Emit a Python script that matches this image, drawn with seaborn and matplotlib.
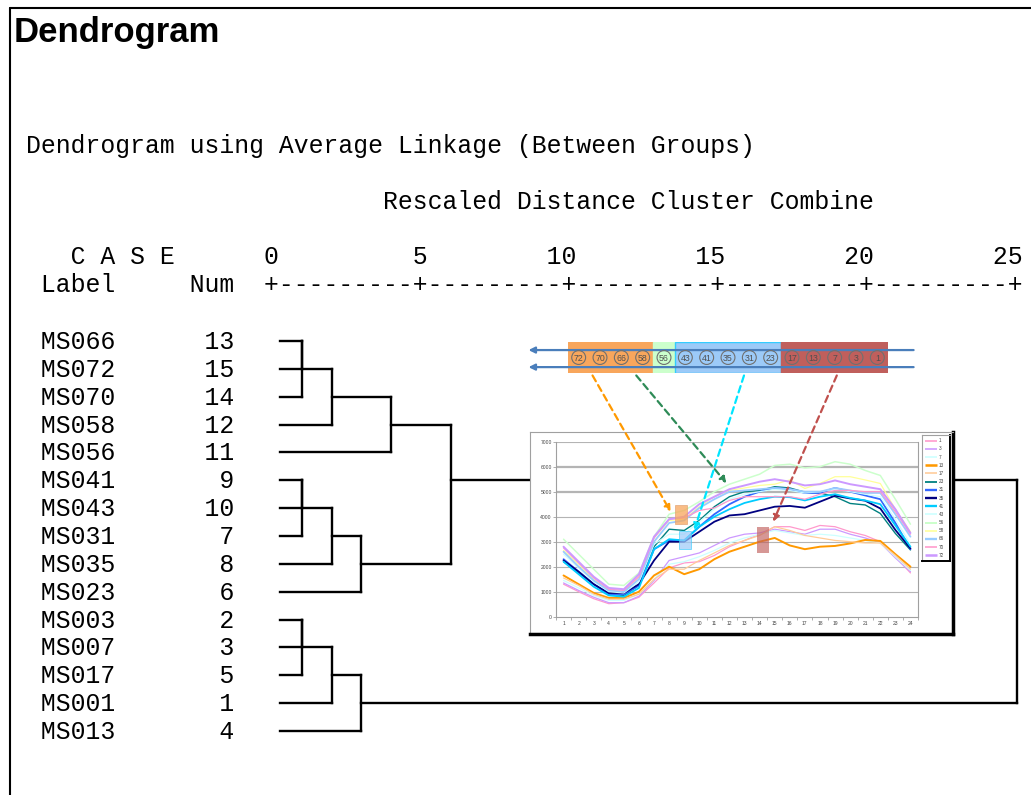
import numpy as np
import pandas as pd
import matplotlib
matplotlib.use("Agg")
import matplotlib.pyplot as plt
import seaborn as sns
from matplotlib.patches import Rectangle, ConnectionPatch
from matplotlib.transforms import blended_transform_factory, offset_copy

# --- data ---
case_labels = ['MS066', 'MS072', 'MS070', 'MS058', 'MS056', 'MS041', 'MS043', 'MS031',
               'MS035', 'MS023', 'MS003', 'MS007', 'MS017', 'MS001', 'MS013']
case_nums = [13, 15, 14, 12, 11, 9, 10, 7, 8, 6, 2, 3, 5, 1, 4]
# (node a, node b, rescaled distance); new nodes numbered from 15 on
merges = [(0, 1, 1), (15, 2, 1), (16, 3, 2), (17, 4, 4),
          (5, 6, 1), (19, 7, 1), (20, 8, 2), (21, 9, 3), (18, 22, 6),
          (10, 11, 1), (24, 12, 1), (25, 13, 2), (26, 14, 3), (23, 27, 25)]
scale_ticks = [0, 5, 10, 15, 20, 25]
leaf_start = 0.27

hours = list(range(1, 25))
load = {
    '1':  [1300, 1000, 720, 520, 560, 780, 1350, 1950, 2150, 2200, 2450, 2800, 3050, 3300, 3600, 3600, 3450, 3650, 3600, 3400, 3250, 3000, 2400, 1750],
    '3':  [1350, 1050, 780, 560, 560, 820, 1450, 2250, 2400, 2550, 2850, 3150, 3300, 3350, 3500, 3400, 3300, 3500, 3500, 3300, 3150, 2950, 2350, 1800],
    '7':  [1450, 1150, 850, 650, 650, 900, 1500, 2100, 2200, 2400, 2650, 2950, 3150, 3300, 3450, 3350, 3250, 3300, 3250, 3150, 3050, 2950, 2400, 1850],
    '13': [1650, 1300, 950, 750, 750, 1000, 1650, 2000, 1700, 1900, 2300, 2600, 2800, 3000, 3150, 2850, 2700, 2800, 2830, 2930, 3070, 3030, 2500, 2000],
    '17': [1550, 1250, 900, 700, 700, 900, 1500, 1900, 1900, 2250, 2550, 2850, 3050, 3250, 3600, 3450, 3250, 3150, 3050, 3000, 2950, 2950, 2450, 1900],
    '23': [2200, 1750, 1300, 900, 850, 1250, 2800, 3500, 3450, 3850, 4400, 4800, 5000, 5050, 5200, 5150, 4980, 4950, 4800, 4530, 4470, 4130, 3330, 2670],
    '31': [2300, 1800, 1300, 900, 900, 1250, 2700, 3050, 3050, 3600, 4100, 4500, 4800, 5000, 5150, 5100, 4950, 4950, 5150, 5000, 4850, 4700, 3750, 2700],
    '35': [2250, 1800, 1300, 950, 950, 1300, 2250, 3000, 3000, 3400, 3800, 4050, 4100, 4250, 4400, 4430, 4360, 4600, 4840, 4730, 4640, 4330, 3470, 2730],
    '41': [2200, 1700, 1200, 850, 800, 1150, 2700, 3100, 3050, 3600, 4000, 4300, 4550, 4700, 4800, 4780, 4650, 4800, 4900, 4750, 4650, 4500, 3650, 2800],
    '43': [2500, 1950, 1400, 1000, 950, 1400, 2900, 3300, 3300, 3800, 4300, 4700, 4900, 5000, 5100, 5050, 4950, 5000, 5100, 5000, 4900, 4800, 3900, 2900],
    '56': [3100, 2500, 1900, 1300, 1250, 1750, 3200, 4100, 4250, 4600, 5000, 5300, 5500, 5700, 6050, 6100, 5950, 6000, 6200, 6100, 5850, 5650, 4700, 3700],
    '58': [2650, 2100, 1500, 1100, 1050, 1600, 3150, 3850, 3900, 4400, 4800, 5050, 5150, 5250, 5300, 5470, 5130, 5330, 5600, 5600, 5470, 5330, 4300, 3400],
    '66': [2600, 2000, 1450, 1050, 1000, 1500, 3000, 3750, 3850, 4350, 4700, 5000, 5050, 5100, 5150, 5100, 5000, 5000, 5150, 5050, 4950, 4950, 4100, 3200],
    '70': [2750, 2150, 1550, 1100, 1050, 1600, 3150, 3900, 3950, 4250, 4350, 4650, 4800, 4800, 4800, 4800, 4700, 4900, 5050, 5050, 5000, 5000, 4200, 3300],
    '72': [2800, 2200, 1600, 1150, 1100, 1700, 3200, 3900, 4000, 4500, 4800, 5100, 5250, 5400, 5500, 5400, 5250, 5300, 5450, 5300, 5200, 5100, 4300, 3350],
}
series_colors = {'1': '#ff99cc', '3': '#cc99ff', '7': '#ccffff', '13': '#ff9900', '17': '#ffcc99',
                 '23': '#008080', '31': '#3366ff', '35': '#000080', '41': '#00ccff', '43': '#ccffff',
                 '56': '#ccffcc', '58': '#ffff99', '66': '#99ccff', '70': '#ff99cc', '72': '#cc99ff'}
series_widths = {'1': 0.9, '3': 0.9, '7': 0.9, '13': 1.4, '17': 0.9, '23': 1.0, '31': 1.3, '35': 1.3,
                 '41': 1.3, '43': 0.9, '56': 1.1, '58': 0.9, '66': 1.3, '70': 0.9, '72': 1.4}
value_ticks = list(range(0, 7001, 1000))

strip_ids = [72, 70, 66, 58, 56, 43, 41, 35, 31, 23, 17, 13, 7, 3, 1]
strip_group_sizes = [4, 1, 5, 5]
strip_group_colors = ['#f8a65c', '#ccffcc', '#9ccaf8', '#c05f5c']
strip_group_edges = ['#f8a65c', '#ccffcc', '#33ccff', '#c05f5c']

W, H = 1031, 795
sns.set_theme(style="white")
plt.rcParams['font.family'] = ['Liberation Sans', 'DejaVu Sans']
plt.rcParams['text.color'] = 'black'
mono = 'Liberation Mono'


def px_box(x0, y0, x1, y1):
    return [x0 / W, 1 - y1 / H, (x1 - x0) / W, (y1 - y0) / H]


fig = plt.figure(figsize=(W / 100, H / 100), dpi=100)

# page layer: frame + SPSS text
page = fig.add_axes([0, 0, 1, 1], zorder=0)
page.set_xlim(0, W)
page.set_ylim(H, 0)
page.axis('off')
page.plot([10, 10], [8, H], color='black', lw=1.5)
page.plot([10, W], [8, 8], color='black', lw=1.5)
page.text(14, 42, 'Dendrogram', fontsize=25, fontweight='bold', va='baseline', ha='left', color='black')

mono_size = 17.85
page.text(26, 153, 'Dendrogram using Average Linkage (Between Groups)',
          family=mono, fontsize=mono_size, va='baseline', color='black')
page.text(26, 209, ' ' * 24 + 'Rescaled Distance Cluster Combine',
          family=mono, fontsize=mono_size, va='baseline', color='black')

# scale header built from tick values (right-aligned over every '+')
head = list('   C A S E' + ' ' * 60)
for t in scale_ticks:
    col = 16 + 2 * t
    s = str(t)
    for j, ch in enumerate(s):
        head[col - len(s) + 1 + j] = ch
page.text(26, 264, ''.join(head).rstrip(), family=mono, fontsize=mono_size,
          va='baseline', color='black')
ruler = '+' + '+'.join(['-' * 9] * (len(scale_ticks) - 1)) + '+'
page.text(26, 292, ' Label' + ' ' * 5 + 'Num' + '  ' + ruler,
          family=mono, fontsize=mono_size, va='baseline', color='black')

# dendrogram
ax_d = fig.add_axes(px_box(272, 341, 1017, 731), zorder=1)
ax_d.set_xlim(0, 25)
ax_d.set_ylim(len(case_labels) - 1, 0)
ax_d.axis('off')

n = len(case_labels)
pos = {i: i for i in range(n)}
hgt = {i: leaf_start for i in range(n)}
for k, (a, b, d) in enumerate(merges):
    for c in (a, b):
        ax_d.plot([hgt[c], d], [pos[c], pos[c]], color='black', lw=1.7,
                  solid_capstyle='projecting', clip_on=False)
    ax_d.plot([d, d], [pos[a], pos[b]], color='black', lw=1.7,
              solid_capstyle='projecting', clip_on=False)
    pos[n + k] = (pos[a] + pos[b]) // 2
    hgt[n + k] = d

row_tr = offset_copy(blended_transform_factory(page.transData, ax_d.transData),
                     fig=fig, y=-8, units='dots')
for i, (lab, num) in enumerate(zip(case_labels, case_nums)):
    ax_d.text(26, i, f' {lab}{num:>8}', family=mono, fontsize=mono_size, color='black',
              va='baseline', transform=row_tr, clip_on=False)

# inset panel (Excel chart)
panel = fig.add_axes(px_box(530, 432, 953, 634), zorder=3)
panel.set_facecolor('white')
panel.set_xticks([])
panel.set_yticks([])
for side in ['left', 'top']:
    panel.spines[side].set_color('#a0a0a0')
    panel.spines[side].set_linewidth(0.8)
for side in ['right', 'bottom']:
    panel.spines[side].set_color('black')
    panel.spines[side].set_linewidth(2.5)

ax_c = fig.add_axes(px_box(556, 441.7, 918, 616.7), zorder=4)
ax_c.set_facecolor('white')
df = pd.DataFrame([(s, h, v) for s, vals in load.items() for h, v in zip(hours, vals)],
                  columns=['series', 'hour', 'value'])
sns.lineplot(data=df, x='hour', y='value', hue='series', size='series',
             palette=series_colors, sizes=series_widths, hue_order=list(load.keys()),
             legend=False, ax=ax_c, zorder=3)
ax_c.set_xlim(0.5, 24.5)
ax_c.set_ylim(0, 7000)
ax_c.set_xlabel('')
ax_c.set_ylabel('')
ax_c.set_yticks(value_ticks)
ax_c.set_yticklabels([str(v) for v in value_ticks], fontsize=3.6, color='#444444')
ax_c.set_xticks(hours)
ax_c.set_xticklabels([str(h) for h in hours], fontsize=3.6, color='#444444')
ax_c.set_xticks(np.arange(0.5, 25, 1), minor=True)
ax_c.tick_params(axis='x', which='major', length=0, pad=3)
ax_c.tick_params(axis='x', which='minor', length=2, color='#a0a0a0', width=0.6, bottom=True)
ax_c.tick_params(axis='y', length=2, color='#a0a0a0', width=0.6, pad=1, left=True)
for v in value_ticks[1:]:
    ax_c.axhline(v, color='#b4b4b4', lw=1.6 if v in (5000, 6000) else 0.8, zorder=1)
for side in ['left', 'bottom', 'right']:
    ax_c.spines[side].set_color('#a0a0a0')
    ax_c.spines[side].set_linewidth(0.8)
ax_c.spines['top'].set_visible(False)

# marked regions on the chart
ax_c.add_patch(Rectangle((8.4, 3700), 0.8, 750, facecolor='#f8a65c', alpha=0.75,
                         edgecolor='#e0a070', lw=0.6, zorder=5))
ax_c.add_patch(Rectangle((8.65, 2700), 0.78, 730, facecolor='#9ccaf8', alpha=0.7,
                         edgecolor='#33ccff', lw=0.6, zorder=5))
ax_c.add_patch(Rectangle((13.8, 2530), 0.8, 1040, facecolor='#c05f5c', alpha=0.65,
                         edgecolor='none', zorder=5))

# legend
ax_l = fig.add_axes(px_box(922, 435, 950, 561), zorder=4)
ax_l.set_xlim(0, 1)
ax_l.set_ylim(len(load) + 0.2, -0.2)
ax_l.set_xticks([])
ax_l.set_yticks([])
ax_l.set_facecolor('white')
for side in ['left', 'top']:
    ax_l.spines[side].set_color('#a0a0a0')
    ax_l.spines[side].set_linewidth(0.8)
for side in ['right', 'bottom']:
    ax_l.spines[side].set_color('black')
    ax_l.spines[side].set_linewidth(1.4)
for i, s in enumerate(load.keys()):
    ax_l.plot([0.12, 0.55], [i + 0.5, i + 0.5], color=series_colors[s],
              lw=series_widths[s] * 1.3, solid_capstyle='butt')
    ax_l.text(0.6, i + 0.5, s, fontsize=3.3, va='center', color='#444444')

# cluster strip above the chart
ax_s = fig.add_axes(px_box(568, 342, 888, 373), zorder=6)
ax_s.set_xlim(0, len(strip_ids))
ax_s.set_ylim(1, 0)
ax_s.axis('off')
start = 0
for size, fc, ec in zip(strip_group_sizes, strip_group_colors, strip_group_edges):
    ax_s.add_patch(Rectangle((start, 0), size, 1, facecolor=fc, edgecolor=ec, lw=1.0))
    start += size
for yy in (0.26, 0.81):
    ax_s.annotate('', xy=(-1.85, yy), xytext=(16.2, yy), annotation_clip=False,
                  arrowprops=dict(arrowstyle='-|>', color='#4a7ebb', lw=1.6,
                                  mutation_scale=9, shrinkA=0, shrinkB=0))
xs = np.arange(len(strip_ids)) + 0.5
ax_s.scatter(xs, [0.5] * len(xs), s=100, facecolors='none', edgecolors='#707070',
             linewidths=0.8, zorder=4, clip_on=False)
for x, sid in zip(xs, strip_ids):
    ax_s.text(x, 0.52, str(sid), fontsize=6.3, ha='center', va='center', color='#505050')

# dashed pointers from the strip to the chart
pointers = [(1.15, (8.1, 4200), '#ff9900'),
            (3.2, (11.8, 5340), '#2e8b57'),
            (8.25, (9.67, 3470), '#00e5ff'),
            (12.6, (14.9, 3800), '#c0504d')]
for sx, target, col in pointers:
    con = ConnectionPatch(xyA=(sx, 1.08), coordsA=ax_s.transData,
                          xyB=target, coordsB=ax_c.transData,
                          arrowstyle='-|>', linestyle=(0, (3, 2)), color=col,
                          lw=1.6, mutation_scale=9, shrinkA=0, shrinkB=0)
    con.set_zorder(8)
    fig.add_artist(con)

fig.savefig('out.png', dpi=100)
